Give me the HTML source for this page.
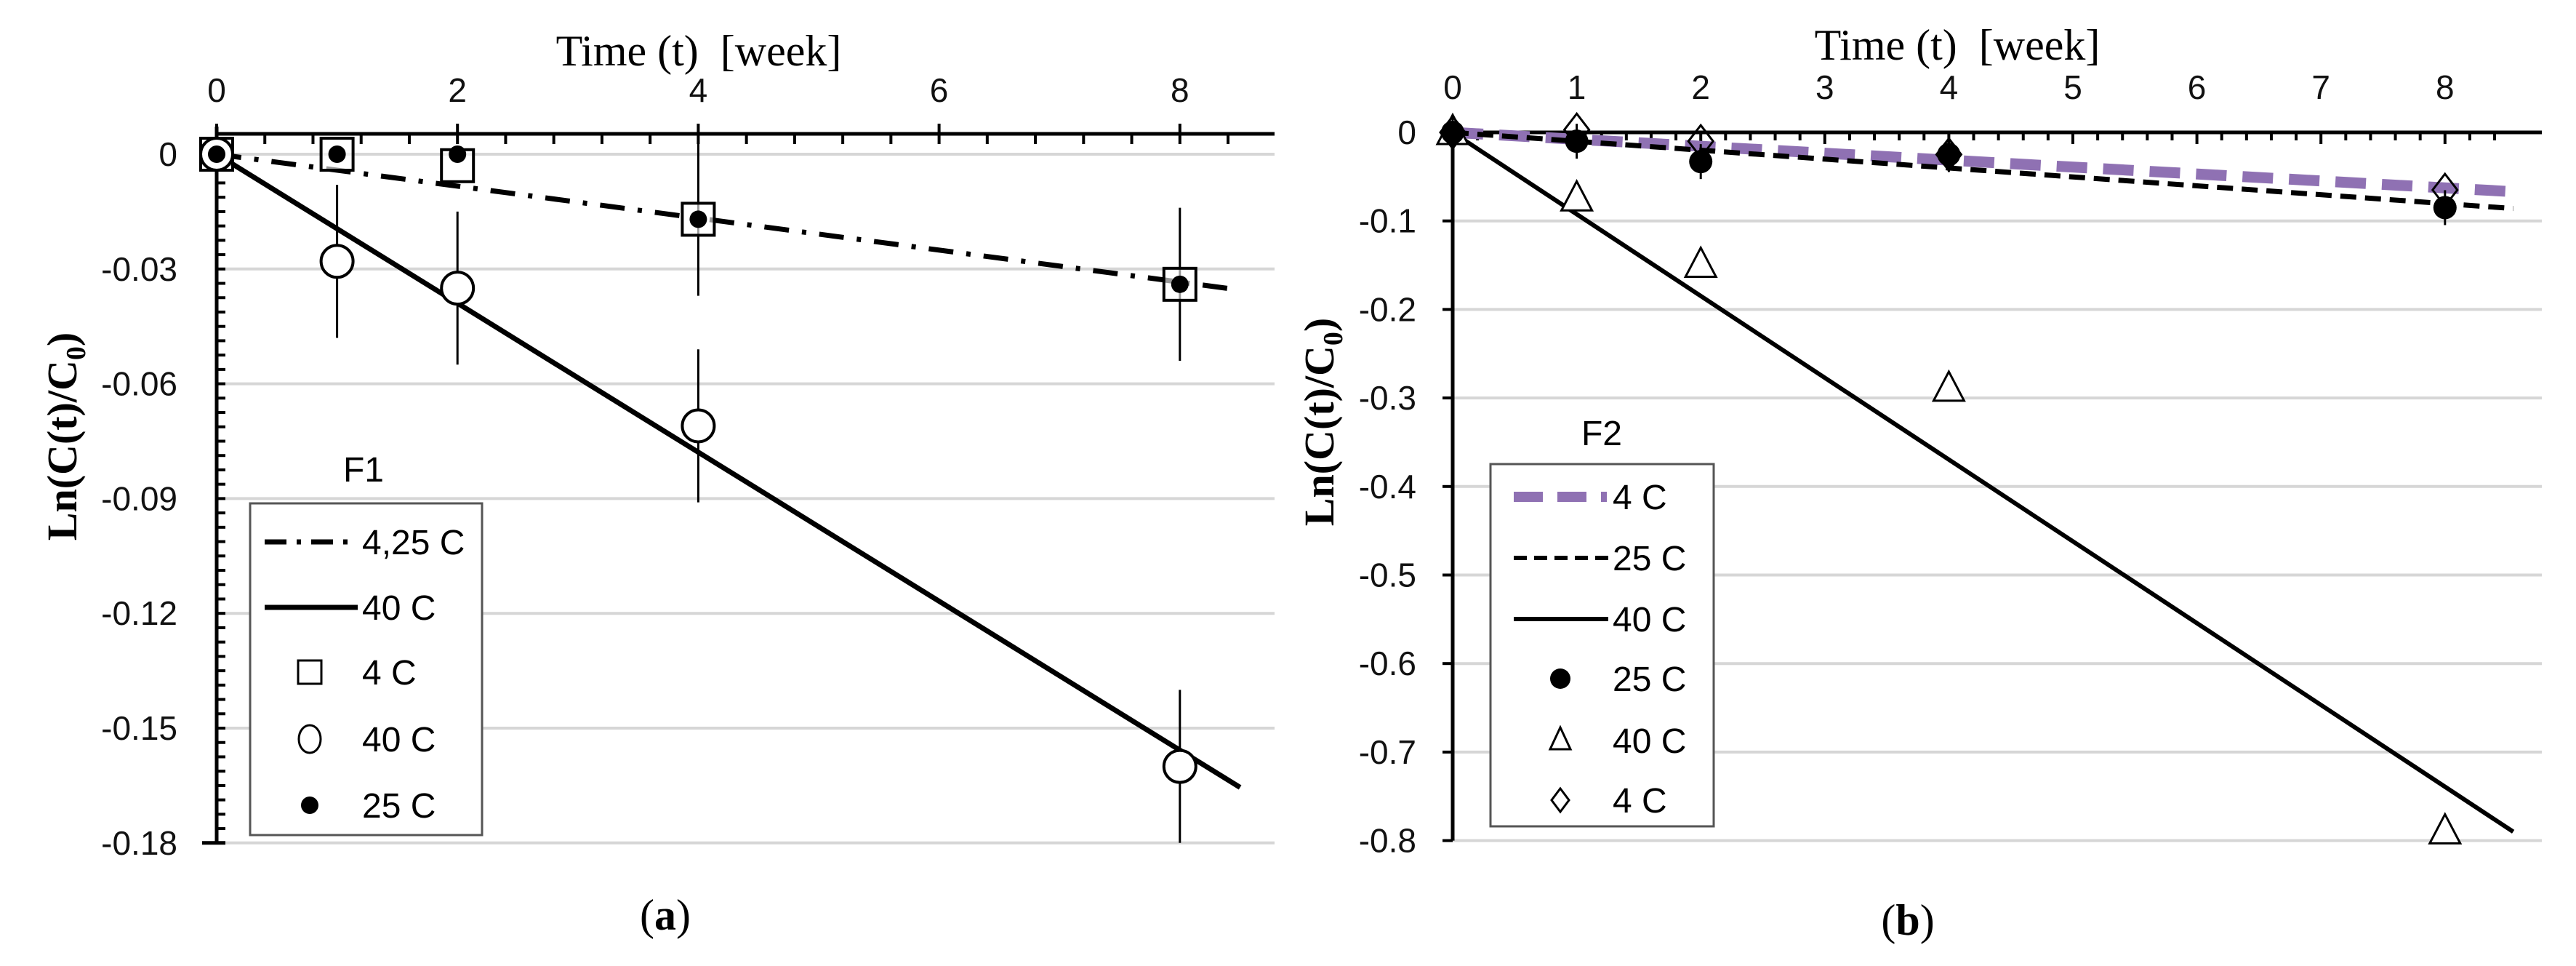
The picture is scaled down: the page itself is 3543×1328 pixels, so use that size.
<!DOCTYPE html>
<html><head><meta charset="utf-8"><style>
html,body{margin:0;padding:0;background:#fff;}
svg{display:block;}
.tick{font-family:"Liberation Sans",sans-serif;font-size:46px;fill:#111;}
.ser{font-family:"Liberation Serif",serif;}
</style></head><body>
<svg id="chart" width="3543" height="1328" viewBox="0 0 3543 1328" xmlns="http://www.w3.org/2000/svg">
<g id="pa"></g>
<g id="pb"></g>
</svg>
<script>
// Panel A data
const aTimes = [0, 1, 2, 4, 8];
const aSquare4C = [0, 0, -0.003, -0.017, -0.034];
const aCircle40C = [0, -0.028, -0.035, -0.071, -0.160];
const aCircleErr = [0, 0.02, 0.02, 0.02, 0.02];
const aDot25C = [0, 0, 0, -0.017, -0.034];
const aDotErr = [0, 0, 0, 0.02, 0.02];
const aLine425End = [8.5, -0.0355];
const aLine40End = [8.5, -0.1655];
const aXTicks = [0, 2, 4, 6, 8];
const aYTicks = [0, -0.03, -0.06, -0.09, -0.12, -0.15, -0.18];
const aYLabels = ["0", "-0.03", "-0.06", "-0.09", "-0.12", "-0.15", "-0.18"];
// Panel B data
const bTimes = [0, 1, 2, 4, 8];
const bDot25C = [0, -0.01, -0.033, -0.025, -0.085];
const bTri40C = [0, -0.075, -0.15, -0.29, -0.79];
const bDiamond4C = [0, 0.003, -0.01, -0.025, -0.065];
const bLine4End = [8.55, -0.067];
const bLine25End = [8.55, -0.086];
const bLine40End = [8.55, -0.79];
const bXTicks = [0, 1, 2, 3, 4, 5, 6, 7, 8];
const bYTicks = [0, -0.1, -0.2, -0.3, -0.4, -0.5, -0.6, -0.7, -0.8];
const bYLabels = ["0", "-0.1", "-0.2", "-0.3", "-0.4", "-0.5", "-0.6", "-0.7", "-0.8"];

const NS = "http://www.w3.org/2000/svg";
function mk(parent, tag, attrs, text) {
  const e = document.createElementNS(NS, tag);
  for (const k in attrs) e.setAttribute(k, attrs[k]);
  if (text !== undefined) e.textContent = text;
  parent.appendChild(e);
  return e;
}

// ---------- Panel A ----------
(function () {
  const g = document.getElementById('pa');
  const X0 = 298, XW = 165.6, Y0 = 212, YS = 157.8 / 0.03, RIGHT = 1753, TOP = 184;
  const x = t => X0 + t * XW;
  const y = v => Y0 - v * YS;
  aYTicks.forEach(v => {
    const l = mk(g, 'line', {x1: X0, x2: RIGHT, y1: y(v), y2: y(v), stroke: '#d6d6d6', 'stroke-width': 4});
    
    
  });
  const ax = mk(g, 'line', {x1: X0, x2: RIGHT, y1: TOP, y2: TOP, stroke: '#000', 'stroke-width': 5});
  
  
  const ay = mk(g, 'line', {x1: X0, x2: X0, y1: TOP - 10, y2: y(-0.18), stroke: '#000', 'stroke-width': 5});
  
  
  mk(g, 'line', {x1: X0 - 20, x2: X0 + 12, y1: y(-0.18), y2: y(-0.18), stroke: '#000', 'stroke-width': 5});
  for (let t = 0; t <= 8.6; t += 0.4) {
    const major = Math.abs(t / 2 - Math.round(t / 2)) < 1e-6;
    mk(g, 'line', {x1: x(t), x2: x(t), y1: major ? TOP - 14 : TOP, y2: TOP + 14, stroke: '#000', 'stroke-width': 4});
  }
  for (let v = 0; v >= -0.18; v -= 0.00375) {
    mk(g, 'line', {x1: X0, x2: X0 + 12, y1: y(v), y2: y(v), stroke: '#000', 'stroke-width': 4});
  }
  aXTicks.forEach(t => {
    const e = mk(g, 'text', {x: x(t), y: 140, class: 'tick', 'text-anchor': 'middle'}, String(t));
    
    
  });
  aYTicks.forEach((v, i) => {
    const e = mk(g, 'text', {x: 244, y: y(v) + 16, class: 'tick', 'text-anchor': 'end'}, aYLabels[i]);
    
    
  });
  const tt = mk(g, 'text', {x: 961, y: 90, class: 'ser', 'font-size': 60, 'text-anchor': 'middle'}, 'Time (t)\u00a0 [week]');
  
  
  const yt = mk(g, 'text', {x: 0, y: 0, class: 'ser', 'font-size': 58, 'font-weight': 'bold', 'text-anchor': 'middle', transform: 'translate(105,600) rotate(-90)'});
  yt.innerHTML = 'Ln(C(t)/C<tspan font-size="38" dy="12">0</tspan><tspan dy="-12">)</tspan>';
  
  
  const cap = mk(g, 'text', {x: 915, y: 1278, class: 'ser', 'font-size': 60, 'text-anchor': 'middle'});
  cap.innerHTML = '(<tspan font-weight="bold">a</tspan>)';
  
  
  const l1 = mk(g, 'line', {x1: x(0), y1: y(0), x2: x(aLine425End[0]), y2: y(aLine425End[1]), stroke: '#000', 'stroke-width': 7, 'stroke-dasharray': '34 18 6 18'});
  
  
  const l2 = mk(g, 'line', {x1: x(0), y1: y(0), x2: x(aLine40End[0]), y2: y(aLine40End[1]), stroke: '#000', 'stroke-width': 7});
  
  
  aTimes.forEach((t, i) => {
    if (aCircleErr[i] > 0) {
      const e = mk(g, 'line', {x1: x(t), x2: x(t), y1: y(aCircle40C[i] + aCircleErr[i]), y2: y(aCircle40C[i] - aCircleErr[i]), stroke: '#000', 'stroke-width': 3});
      
      
    }
    if (aDotErr[i] > 0) {
      const e = mk(g, 'line', {x1: x(t), x2: x(t), y1: y(aDot25C[i] + aDotErr[i]), y2: y(aDot25C[i] - aDotErr[i]), stroke: '#000', 'stroke-width': 3});
      
      
    }
  });
  aTimes.forEach((t, i) => {
    const s = mk(g, 'rect', {x: x(t) - 22, y: y(aSquare4C[i]) - 22, width: 44, height: 44, fill: '#fff', 'fill-opacity': 0.6, stroke: '#000', 'stroke-width': 4});
    
    
  });
  aTimes.forEach((t, i) => {
    const c = mk(g, 'circle', {cx: x(t), cy: y(aCircle40C[i]), r: 22, fill: '#fff', stroke: '#000', 'stroke-width': 4});
    
    
  });
  aTimes.forEach((t, i) => {
    const c = mk(g, 'circle', {cx: x(t), cy: y(aDot25C[i]), r: 12, fill: '#000'});
    
    
  });
  const f1 = mk(g, 'text', {x: 500, y: 662, 'font-family': '"Liberation Sans",sans-serif', 'font-size': 48, 'text-anchor': 'middle'}, 'F1');
  
  
  const lg = mk(g, 'rect', {x: 344, y: 692, width: 319, height: 456, fill: '#fff', stroke: '#555', 'stroke-width': 3});
  
  
  const ly = [745, 835, 924, 1016, 1107];
  const labels = ['4,25 C', '40 C', '4 C', '40 C', '25 C'];
  labels.forEach((lab, i) => {
    const t = mk(g, 'text', {x: 498, y: ly[i] + 17, 'font-family': '"Liberation Sans",sans-serif', 'font-size': 48}, lab);
    
    
  });
  mk(g, 'line', {x1: 364, x2: 492, y1: ly[0], y2: ly[0], stroke: '#000', 'stroke-width': 7, 'stroke-dasharray': '30 14 6 14'});
  mk(g, 'line', {x1: 364, x2: 492, y1: ly[1], y2: ly[1], stroke: '#000', 'stroke-width': 7});
  mk(g, 'rect', {x: 410, y: ly[2] - 16, width: 32, height: 32, fill: '#fff', stroke: '#000', 'stroke-width': 3});
  mk(g, 'ellipse', {cx: 426, cy: ly[3], rx: 15, ry: 19, fill: '#fff', stroke: '#000', 'stroke-width': 3});
  mk(g, 'circle', {cx: 426, cy: ly[4], r: 12, fill: '#000'});
})();

// ---------- Panel B ----------
(function () {
  const g = document.getElementById('pb');
  const X0 = 1998, XW = 170.6, Y0 = 182, YS = 121.7 / 0.1, RIGHT = 3496, TOP = 182;
  const x = t => X0 + t * XW;
  const y = v => Y0 - v * YS;
  bYTicks.forEach(v => {
    if (v === 0) return;
    const l = mk(g, 'line', {x1: X0, x2: RIGHT, y1: y(v), y2: y(v), stroke: '#d6d6d6', 'stroke-width': 4});
    
    
  });
  const ax = mk(g, 'line', {x1: X0, x2: RIGHT, y1: TOP, y2: TOP, stroke: '#000', 'stroke-width': 5});
  
  
  const ay = mk(g, 'line', {x1: X0, x2: X0, y1: TOP, y2: y(-0.8), stroke: '#000', 'stroke-width': 5});
  
  
  for (let t = 0; t <= 8.6; t += 0.2) {
    const major = Math.abs(t - Math.round(t)) < 1e-6;
    mk(g, 'line', {x1: x(t), x2: x(t), y1: TOP, y2: TOP + (major ? 16 : 11), stroke: '#000', 'stroke-width': 4});
  }
  bYTicks.forEach(v => mk(g, 'line', {x1: X0 - 14, x2: X0, y1: y(v), y2: y(v), stroke: '#000', 'stroke-width': 4}));
  bXTicks.forEach(t => {
    const e = mk(g, 'text', {x: x(t), y: 136, class: 'tick', 'text-anchor': 'middle'}, String(t));
    
    
  });
  bYTicks.forEach((v, i) => {
    const e = mk(g, 'text', {x: 1948, y: y(v) + 16, class: 'tick', 'text-anchor': 'end'}, bYLabels[i]);
    
    
  });
  const tt = mk(g, 'text', {x: 2692, y: 82, class: 'ser', 'font-size': 60, 'text-anchor': 'middle'}, 'Time (t)\u00a0 [week]');
  
  
  const yt = mk(g, 'text', {x: 0, y: 0, class: 'ser', 'font-size': 58, 'font-weight': 'bold', 'text-anchor': 'middle', transform: 'translate(1834,580) rotate(-90)'});
  yt.innerHTML = 'Ln(C(t)/C<tspan font-size="38" dy="12">0</tspan><tspan dy="-12">)</tspan>';
  
  
  const cap = mk(g, 'text', {x: 2624, y: 1285, class: 'ser', 'font-size': 60, 'text-anchor': 'middle'});
  cap.innerHTML = '(<tspan font-weight="bold">b</tspan>)';
  
  
  const l3 = mk(g, 'line', {x1: x(0), y1: y(0), x2: x(bLine40End[0]), y2: y(bLine40End[1]), stroke: '#000', 'stroke-width': 6});
  
  
  const l1 = mk(g, 'line', {x1: x(0), y1: y(0), x2: x(bLine4End[0]), y2: y(bLine4End[1]), stroke: '#8f71b3', 'stroke-width': 15, 'stroke-dasharray': '42 22'});
  
  
  const l2 = mk(g, 'line', {x1: x(0), y1: y(0), x2: x(bLine25End[0]), y2: y(bLine25End[1]), stroke: '#000', 'stroke-width': 7, 'stroke-dasharray': '22 12'});
  
  
  bTimes.forEach((t, i) => {
    const cx = x(t), cy = y(bTri40C[i]);
    const p = mk(g, 'polygon', {points: `${cx},${cy - 24} ${cx + 21},${cy + 16} ${cx - 21},${cy + 16}`, fill: '#fff', stroke: '#000', 'stroke-width': 3});
    
    
  });
  bTimes.forEach((t, i) => {
    const cx = x(t), cy = y(bDiamond4C[i]);
    const p = mk(g, 'polygon', {points: `${cx},${cy - 22} ${cx + 17},${cy} ${cx},${cy + 22} ${cx - 17},${cy}`, fill: 'none', stroke: '#000', 'stroke-width': 3});
    
    
  });
  bTimes.forEach((t, i) => {
    const cx = x(t), cy = y(bDot25C[i]);
    mk(g, 'line', {x1: cx, x2: cx, y1: cy - 24, y2: cy + 24, stroke: '#000', 'stroke-width': 3});
    const c = mk(g, 'circle', {cx: cx, cy: cy, r: 16, fill: '#000'});
    
    
  });
  const f2 = mk(g, 'text', {x: 2203, y: 612, 'font-family': '"Liberation Sans",sans-serif', 'font-size': 48, 'text-anchor': 'middle'}, 'F2');
  
  
  const lg = mk(g, 'rect', {x: 2050, y: 638, width: 307, height: 498, fill: '#fff', stroke: '#555', 'stroke-width': 3});
  
  
  const ly = [683, 767, 851, 933, 1018, 1100];
  const labels = ['4 C', '25 C', '40 C', '25 C', '40 C', '4 C'];
  labels.forEach((lab, i) => {
    const t = mk(g, 'text', {x: 2218, y: ly[i] + 17, 'font-family': '"Liberation Sans",sans-serif', 'font-size': 48}, lab);
    
    
  });
  mk(g, 'line', {x1: 2082, x2: 2210, y1: ly[0], y2: ly[0], stroke: '#8f71b3', 'stroke-width': 14, 'stroke-dasharray': '40 20'});
  mk(g, 'line', {x1: 2082, x2: 2212, y1: ly[1], y2: ly[1], stroke: '#000', 'stroke-width': 6, 'stroke-dasharray': '18 10'});
  mk(g, 'line', {x1: 2082, x2: 2212, y1: ly[2], y2: ly[2], stroke: '#000', 'stroke-width': 6});
  mk(g, 'circle', {cx: 2146, cy: ly[3], r: 14, fill: '#000'});
  mk(g, 'polygon', {points: `2146,${ly[4] - 18} 2160,${ly[4] + 12} 2132,${ly[4] + 12}`, fill: '#fff', stroke: '#000', 'stroke-width': 3});
  mk(g, 'polygon', {points: `2146,${ly[5] - 16} 2158,${ly[5]} 2146,${ly[5] + 16} 2134,${ly[5]}`, fill: '#fff', stroke: '#000', 'stroke-width': 3});
})();
</script>
</body></html>
